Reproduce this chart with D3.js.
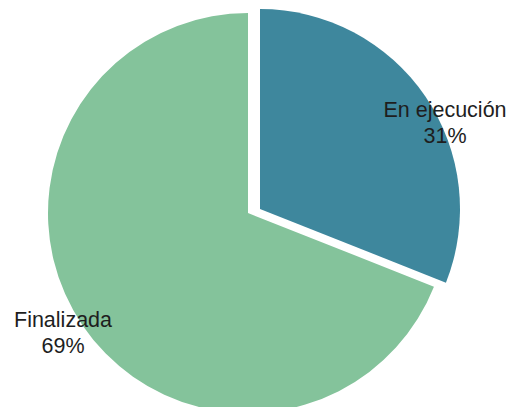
<!DOCTYPE html>
<html>
<head>
<meta charset="utf-8">
<script src="https://cdn.jsdelivr.net/npm/d3@7"></script>
<style>
  body { margin: 0; background: #fff; }
  svg { display: block; }
</style>
</head>
<body>
<div id="chart"></div>
<script>
// data
var categories = ["En ejecución", "Finalizada"];
var values = [31, 69];

var colors = ["#3e879d", "#84c39b"];
var width = 514, height = 407;
var cx = 248, cy = 213, radius = 200;
// how far each slice is pulled out (dx, dy)
var explode = [[12, -4], [0, 0]];
// label anchors (offset from pie centre), one per slice
var labelPos = [[197, -96], [-185, 114]];

var svg = d3.select("#chart")
   .append("svg")
   .attr("width", width)
   .attr("height", height);

var pie = d3.pie().sort(null).value(function (d) { return d; });
var arcs = pie(values);

var arc = d3.arc().innerRadius(0).outerRadius(radius);

var g = svg.append("g")
   .attr("transform", "translate(" + cx + "," + cy + ")");

g.selectAll("path")
   .data(arcs)
   .enter()
   .append("path")
   .attr("d", arc)
   .attr("fill", function (d, i) { return colors[i]; })
   .attr("transform", function (d, i) {
      return "translate(" + explode[i][0] + "," + explode[i][1] + ")";
   });

// labels
var lbl = g.selectAll(".lbl")
   .data(arcs)
   .enter()
   .append("text")
   .attr("class", "lbl")
   .attr("text-anchor", "middle")
   .style("font-family", "'Liberation Sans', Arial, sans-serif")
   .style("font-size", "21.5px")
   .style("fill", "#1e1e1e")
   .attr("transform", function (d, i) {
      return "translate(" + labelPos[i][0] + "," + labelPos[i][1] + ")";
   });

lbl.append("tspan")
   .attr("x", 0)
   .attr("y", 0)
   .text(function (d, i) { return categories[i]; });
lbl.append("tspan")
   .attr("x", 0)
   .attr("y", 26)
   .text(function (d) { return d.value + "%"; });
</script>
</body>
</html>
